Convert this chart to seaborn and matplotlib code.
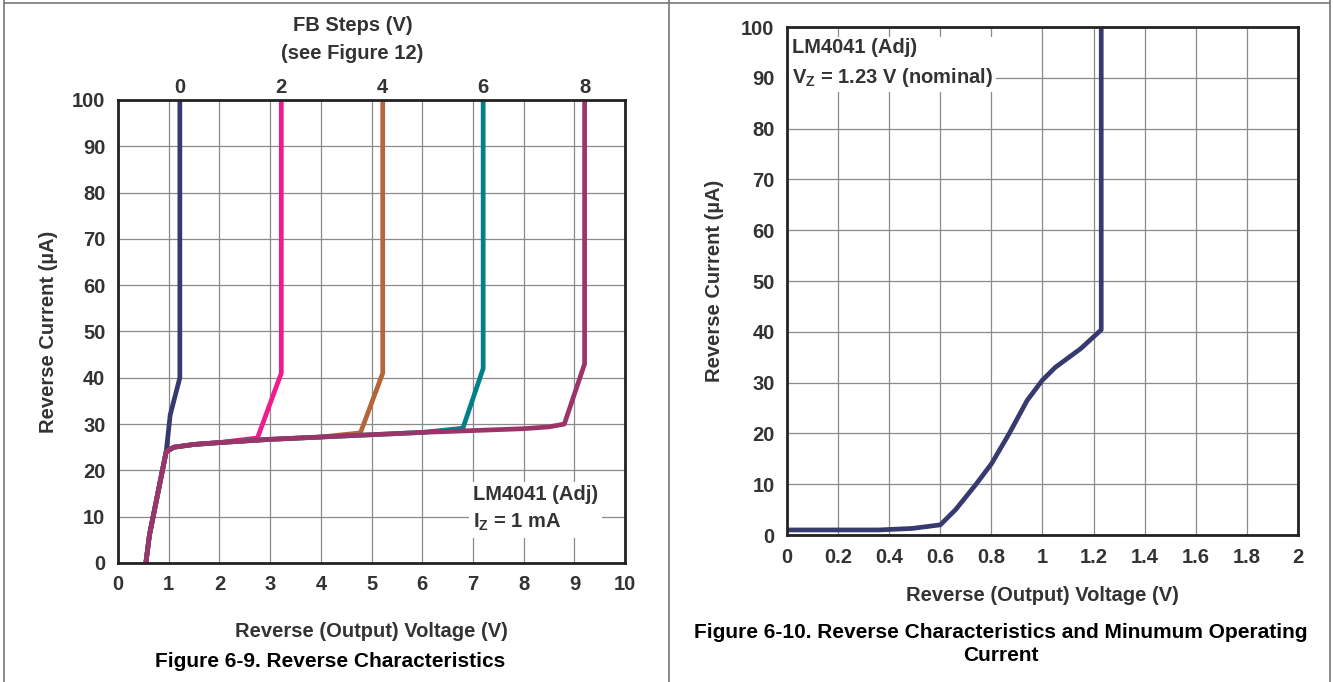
import matplotlib
matplotlib.use("Agg")
import matplotlib.pyplot as plt
import seaborn as sns
import pandas as pd
from matplotlib.lines import Line2D

# Figure 6-9: reverse characteristics for each FB step (V, uA)
fb0_v = [0.55, 0.62, 0.95, 1.03, 1.22, 1.22]
fb0_i = [0, 6, 24, 32, 40, 100]
fb2_v = [0.55, 0.62, 0.95, 1.1, 1.5, 2.0, 2.75, 3.22, 3.22]
fb2_i = [0, 6, 24, 25.0, 25.6, 26.0, 27.0, 41, 100]
fb4_v = [0.55, 0.62, 0.95, 1.1, 1.5, 2.0, 3.0, 4.0, 4.78, 5.22, 5.22]
fb4_i = [0, 6, 24, 25.0, 25.6, 26.0, 26.7, 27.2, 28.1, 41, 100]
fb6_v = [0.55, 0.62, 0.95, 1.1, 1.5, 2.0, 3.0, 4.0, 5.0, 6.0, 6.8, 7.2, 7.2]
fb6_i = [0, 6, 24, 25.0, 25.6, 26.0, 26.7, 27.2, 27.7, 28.2, 29.1, 42, 100]
fb8_v = [0.55, 0.62, 0.95, 1.1, 1.5, 2.0, 3.0, 4.0, 5.0, 6.0, 7.0, 8.0, 8.5, 8.8, 9.2, 9.2]
fb8_i = [0, 6, 24, 25.0, 25.6, 26.0, 26.7, 27.2, 27.7, 28.2, 28.6, 29.0, 29.4, 30.0, 43, 100]
fb_labels = ["0", "2", "4", "6", "8"]
fb_tops = [1.22, 3.22, 5.22, 7.2, 9.2]

# Figure 6-10: minimum operating current
min_v = [0, 0.36, 0.49, 0.6, 0.66, 0.74, 0.80, 0.87, 0.94, 1.0, 1.05, 1.15, 1.23, 1.23]
min_i = [1.0, 1.0, 1.3, 2.0, 5, 10, 14, 20, 26.5, 30.5, 33, 36.7, 40.4, 100]
x2_ticks = [0, 0.2, 0.4, 0.6, 0.8, 1, 1.2, 1.4, 1.6, 1.8, 2]
x2_labels = ["0", "0.2", "0.4", "0.6", "0.8", "1", "1.2", "1.4", "1.6", "1.8", "2"]

fb_colors = ["#363a6e", "#ee1c8c", "#b5653a", "#00808a", "#9b3468"]
txt = "#333333"
FS = 14.5

sns.set_theme(style="whitegrid")
plt.rcParams['font.family'] = ['Liberation Sans', 'DejaVu Sans']
plt.rcParams['font.weight'] = 'bold'
plt.rcParams['mathtext.fontset'] = 'custom'
plt.rcParams['mathtext.rm'] = 'Liberation Sans:bold'
plt.rcParams['mathtext.bf'] = 'Liberation Sans:bold'
plt.rcParams['mathtext.default'] = 'bf'

fig = plt.figure(figsize=(13.33, 6.82), dpi=100)
fig.patch.set_facecolor("white")


def style_axes(ax):
    ax.set_facecolor("white")
    ax.grid(True, color="#8a8a8a", linewidth=0.9)
    for s in ax.spines.values():
        s.set_visible(True)
        s.set_color("#222222")
        s.set_linewidth(2.0)
    ax.tick_params(length=0, pad=9, labelsize=FS, labelcolor=txt)
    for lab in ax.get_xticklabels() + ax.get_yticklabels():
        lab.set_fontweight("bold")


# ---- left chart
ax1 = fig.add_axes([0.0885, 0.1745, 0.3805, 0.679])
curves = [(fb0_v, fb0_i), (fb2_v, fb2_i), (fb4_v, fb4_i), (fb6_v, fb6_i), (fb8_v, fb8_i)]
for (v, i), c in zip(curves, fb_colors):
    df = pd.DataFrame({"v": v, "i": i})
    sns.lineplot(data=df, x="v", y="i", sort=False, estimator=None, color=c,
                 linewidth=3.4, ax=ax1, solid_joinstyle="round", solid_capstyle="butt")
ax1.set_xlim(0, 10)
ax1.set_ylim(0, 100)
ax1.set_xticks(range(0, 11))
ax1.set_yticks(range(0, 101, 10))
ax1.set_xlabel("Reverse (Output) Voltage (V)", fontsize=FS, fontweight="bold", color=txt, labelpad=20)
ax1.set_ylabel("Reverse Current (\u00b5A)", fontsize=FS, fontweight="bold", color=txt, labelpad=10)
style_axes(ax1)

top = ax1.secondary_xaxis("top")
top.set_xticks(fb_tops)
top.set_xticklabels(fb_labels)
top.tick_params(length=0, pad=2, labelsize=FS, labelcolor=txt)
for lab in top.get_xticklabels():
    lab.set_fontweight("bold")
top.spines["top"].set_visible(False)
fig.text(0.2645, 0.963, "FB Steps (V)", ha="center", va="center", fontsize=FS, fontweight="bold", color=txt)
fig.text(0.2645, 0.922, "(see Figure 12)", ha="center", va="center", fontsize=FS, fontweight="bold", color=txt)

ax1.text(7.0, 16.8, "LM4041 (Adj)\nI$_Z$ = 1 mA", ha="left", va="top", fontsize=FS,
         fontweight="bold", color=txt, linespacing=1.5,
         bbox=dict(facecolor="white", edgecolor="none", pad=3), zorder=5)

fig.text(0.2475, 0.030, "Figure 6-9. Reverse Characteristics", ha="center", va="center",
         fontsize=15, fontweight="bold", color="black")

# ---- right chart
ax2 = fig.add_axes([0.5904, 0.2155, 0.3833, 0.7449])
sns.lineplot(x=min_v, y=min_i, sort=False, estimator=None, color="#363a6e",
             linewidth=3.4, ax=ax2, solid_joinstyle="round")
ax2.set_xlim(0, 2)
ax2.set_ylim(0, 100)
ax2.set_xticks(x2_ticks)
ax2.set_xticklabels(x2_labels)
ax2.set_yticks(range(0, 101, 10))
ax2.set_xlabel("Reverse (Output) Voltage (V)", fontsize=FS, fontweight="bold", color=txt, labelpad=14)
ax2.set_ylabel("Reverse Current (\u00b5A)", fontsize=FS, fontweight="bold", color=txt, labelpad=12)
style_axes(ax2)

ax2.text(0.02, 97.8, "LM4041 (Adj)\nV$_Z$ = 1.23 V (nominal)", ha="left", va="top", fontsize=FS,
         fontweight="bold", color=txt, linespacing=1.5,
         bbox=dict(facecolor="white", edgecolor="none", pad=2), zorder=5)

fig.text(0.7505, 0.073, "Figure 6-10. Reverse Characteristics and Minumum Operating", ha="center",
         va="center", fontsize=15, fontweight="bold", color="black")
fig.text(0.7505, 0.039, "Current", ha="center", va="center", fontsize=15, fontweight="bold", color="black")

# frame around the two panels
for xs, ys in [([0.003, 0.003], [0, 1]), ([0.502, 0.502], [0, 1]), ([0.998, 0.998], [0, 1]),
               ([0.003, 0.998], [0.995, 0.995])]:
    fig.add_artist(Line2D(xs, ys, color="#777777", linewidth=1.2, transform=fig.transFigure))

fig.savefig("out.png", dpi=100, facecolor="white")
